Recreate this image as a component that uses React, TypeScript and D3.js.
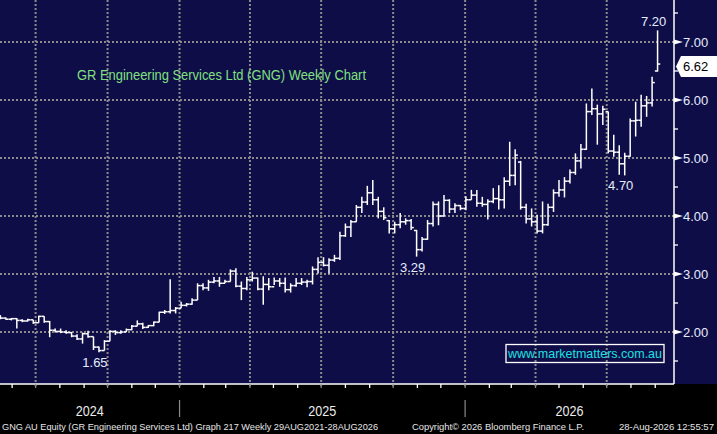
import React from 'react'
import * as d3 from 'd3'

// weekly bars, first bar date, one bar per week
const firstBar = new Date(2024, 4, 17)

const opens = [
  2.28, 2.24, 2.22, 2.23, 2.20, 2.19, 2.21, 2.16, 2.27, 2.18,
  2.03, 2.01, 2.00, 1.99, 1.93, 1.88, 1.97, 1.92, 1.74, 1.68,
  1.84, 2.01, 1.99, 2.00, 2.04, 2.10, 2.14, 2.08, 2.11, 2.17,
  2.34, 2.35, 2.37, 2.41, 2.46, 2.48, 2.55, 2.80, 2.76, 2.86,
  2.88, 2.84, 2.87, 3.05, 2.79, 2.75, 2.90, 2.93, 2.74, 2.82,
  2.78, 2.88, 2.84, 2.73, 2.80, 2.84, 2.86, 2.87, 3.08, 3.20,
  3.15, 3.24, 3.27, 3.66, 3.81, 3.90, 4.15, 4.24, 4.40, 4.28,
  4.08, 3.92, 3.78, 3.85, 3.90, 3.92, 3.75, 3.42, 3.60, 3.87,
  4.20, 4.00, 4.27, 4.12, 4.18, 4.13, 4.28, 4.36, 4.22, 4.20,
  4.25, 4.30, 4.28, 4.60, 4.70, 4.93, 4.15, 3.95, 3.90, 3.74,
  3.85, 4.15, 4.40, 4.45, 4.60, 4.75, 4.95, 5.15, 5.80, 5.85,
  5.76, 5.80, 5.12, 5.10, 4.90, 5.03, 5.64, 5.65, 5.90, 5.95,
  6.50,
]
const highs = [
  2.29, 2.25, 2.24, 2.24, 2.22, 2.23, 2.21, 2.28, 2.27, 2.19,
  2.06, 2.06, 2.03, 2.00, 1.96, 1.99, 2.02, 1.92, 1.75, 1.86,
  2.03, 2.03, 2.03, 2.06, 2.12, 2.20, 2.16, 2.12, 2.18, 2.35,
  2.38, 2.91, 2.43, 2.52, 2.50, 2.58, 2.84, 2.84, 2.90, 2.95,
  2.95, 2.90, 3.08, 3.10, 2.87, 2.95, 3.04, 2.94, 2.96, 2.93,
  2.94, 2.93, 2.94, 2.84, 2.93, 2.93, 2.90, 3.13, 3.29, 3.29,
  3.27, 3.33, 3.73, 3.87, 3.93, 4.19, 4.33, 4.52, 4.62, 4.33,
  4.15, 3.93, 3.90, 4.05, 3.96, 3.95, 3.76, 3.64, 3.93, 4.25,
  4.25, 4.36, 4.29, 4.22, 4.19, 4.34, 4.45, 4.45, 4.33, 4.29,
  4.48, 4.53, 4.67, 5.28, 5.15, 4.95, 4.21, 4.13, 4.02, 4.25,
  4.21, 4.46, 4.62, 4.67, 4.80, 5.08, 5.24, 5.94, 6.20, 5.92,
  5.90, 5.80, 5.40, 5.22, 5.09, 5.68, 5.97, 6.09, 6.07, 6.40,
  7.20,
]
const lows = [
  2.22, 2.21, 2.20, 2.06, 2.17, 2.18, 2.14, 2.16, 2.16, 1.91,
  1.99, 1.98, 1.97, 1.91, 1.86, 1.80, 1.90, 1.69, 1.65, 1.68,
  1.84, 1.95, 1.97, 2.00, 2.03, 2.10, 2.05, 2.07, 2.10, 2.17,
  2.31, 2.32, 2.32, 2.41, 2.44, 2.47, 2.55, 2.72, 2.71, 2.84,
  2.78, 2.84, 2.87, 2.77, 2.55, 2.72, 2.87, 2.72, 2.47, 2.72,
  2.81, 2.78, 2.68, 2.68, 2.78, 2.81, 2.77, 2.82, 3.01, 3.13,
  3.01, 3.21, 3.24, 3.64, 3.64, 3.90, 4.05, 4.19, 4.19, 3.96,
  3.93, 3.70, 3.70, 3.79, 3.85, 3.76, 3.30, 3.39, 3.59, 3.82,
  3.84, 3.99, 4.05, 4.05, 4.10, 4.10, 4.28, 4.16, 4.16, 3.94,
  4.22, 4.11, 4.13, 4.52, 4.53, 4.11, 3.87, 3.82, 3.70, 3.70,
  3.83, 4.07, 4.33, 4.32, 4.56, 4.71, 4.82, 5.14, 5.74, 5.23,
  5.57, 5.08, 5.02, 4.71, 4.70, 5.02, 5.37, 5.54, 5.71, 5.89,
  6.49,
]
const closes = [
  2.24, 2.22, 2.23, 2.20, 2.19, 2.21, 2.16, 2.27, 2.18, 2.03,
  2.01, 2.00, 1.99, 1.93, 1.88, 1.97, 1.92, 1.74, 1.68, 1.84,
  2.01, 1.99, 2.00, 2.04, 2.10, 2.14, 2.08, 2.11, 2.17, 2.34,
  2.35, 2.37, 2.41, 2.46, 2.48, 2.55, 2.80, 2.76, 2.86, 2.88,
  2.84, 2.87, 3.05, 2.79, 2.75, 2.90, 2.93, 2.74, 2.82, 2.78,
  2.88, 2.84, 2.73, 2.80, 2.84, 2.86, 2.87, 3.08, 3.20, 3.15,
  3.24, 3.27, 3.66, 3.81, 3.90, 4.15, 4.24, 4.40, 4.28, 4.08,
  3.97, 3.78, 3.85, 3.90, 3.92, 3.80, 3.42, 3.60, 3.87, 4.20,
  4.00, 4.27, 4.12, 4.18, 4.13, 4.28, 4.36, 4.22, 4.20, 4.25,
  4.30, 4.28, 4.60, 4.70, 5.05, 4.15, 3.95, 3.90, 3.74, 3.85,
  4.15, 4.40, 4.45, 4.60, 4.75, 4.95, 5.15, 5.80, 5.85, 5.76,
  5.84, 5.12, 5.10, 4.90, 5.03, 5.64, 5.65, 5.90, 5.95, 6.30,
  6.62,
]

const priceTicks = [2, 3, 4, 5, 6, 7]
const halfTicks = [1.5, 2.5, 3.5, 4.5, 5.5, 6.5, 7.5]
const years = [2024, 2025, 2026]
const marks = [
  { text: '1.65', bar: 18, side: 'low' },
  { text: '3.29', bar: 76, side: 'low' },
  { text: '4.70', bar: 114, side: 'low' },
  { text: '7.20', bar: 120, side: 'high' },
]
const lastPrice = 6.62
const title = 'GR Engineering Services Ltd (GNG) Weekly Chart'
const siteUrl = 'www.marketmatters.com.au'
const footLeft = 'GNG AU Equity (GR Engineering Services Ltd) Graph 217 Weekly 29AUG2021-28AUG2026'
const footMid = 'Copyright\u00a9 2026 Bloomberg Finance L.P.'
const footRight = '28-Aug-2026 12:55:57'

const W = 717
const H = 434
const plotRight = 674
const plotBottom = 384
const navy = '#0f0d47'
const font = '"Liberation Sans", Arial, sans-serif'
const labelColor = '#e4ecff'

const App: React.FC = () => {
  const dates = closes.map((_, i) => d3.timeDay.offset(firstBar, i * 7))
  const x = d3.scaleTime()
    .domain([new Date(2024, 4, 16, 12), new Date(2026, 8, 25)])
    .range([0, plotRight])
  const y = d3.scaleLinear().domain([2, 7]).range([332, 42])

  const start = x.domain()[0]
  const end = x.domain()[1]
  const quarters = d3.timeMonth.every(3)!.range(start, end).filter(d => d.getMonth() % 3 === 0)
  const months = d3.timeMonth.range(start, end)
  const tk = 2.7

  const last = y(lastPrice) + 2.5

  return (
    <svg width={W} height={H} style={{ position: 'absolute', left: 0, top: 0, background: '#000' }}
      fontFamily={font}>
      <rect x={0} y={0} width={W} height={plotBottom} fill={navy} />

      {/* grid */}
      {priceTicks.map(p => (
        <line key={'h' + p} x1={0} x2={plotRight} y1={y(p)} y2={y(p)}
          stroke="#8a8a8a" strokeWidth={2} strokeDasharray="2,2" />
      ))}
      {quarters.map(d => (
        <line key={'v' + d.getTime()} x1={x(d)} x2={x(d)} y1={0} y2={plotBottom + 4}
          stroke="#8a8a8a" strokeWidth={2} strokeDasharray="2,2" />
      ))}

      {/* bars */}
      <g stroke="#fff" strokeWidth={1.5}>
        {dates.map((d, i) => {
          const cx = x(d)
          return (
            <g key={i}>
              <line x1={cx} x2={cx} y1={y(highs[i])} y2={y(lows[i])} />
              <line x1={cx - tk} x2={cx} y1={y(opens[i])} y2={y(opens[i])} />
              <line x1={cx} x2={cx + tk} y1={y(closes[i])} y2={y(closes[i])} />
            </g>
          )
        })}
      </g>

      {/* high / low labels */}
      {marks.map(m => {
        const v = m.side === 'low' ? lows[m.bar] : highs[m.bar]
        const ty = m.side === 'low' ? y(v) + 15 : y(v) - 4
        return (
          <text key={m.text} x={x(dates[m.bar]) - 4} y={ty} fill={labelColor}
            fontSize={13} textAnchor="middle">{m.text}</text>
        )
      })}

      <text x={77} y={80} fill="#80e080" fontSize={14} textLength={289}
        lengthAdjust="spacingAndGlyphs">{title}</text>

      <rect x={506} y={344.5} width={158} height={18} fill="none" stroke="#fff" strokeWidth={1.3} />
      <text x={508} y={358} fill="#1ee0e0" fontSize={13} textLength={154}
        lengthAdjust="spacingAndGlyphs">{siteUrl}</text>

      {/* axes */}
      <line x1={plotRight} x2={plotRight} y1={0} y2={plotBottom} stroke="#fff" strokeWidth={1.5} />
      <line x1={0} x2={plotRight} y1={plotBottom} y2={plotBottom} stroke="#fff" strokeWidth={1.5} />
      {halfTicks.map(p => (
        <line key={'m' + p} x1={plotRight} x2={plotRight + 4} y1={y(p)} y2={y(p)}
          stroke="#fff" strokeWidth={1.3} />
      ))}
      {priceTicks.map(p => (
        <g key={'l' + p}>
          <path d={`M${plotRight},${y(p) - 2.5}L${plotRight + 9},${y(p)}L${plotRight},${y(p) + 2.5}Z`} fill="#fff" />
          <text x={683} y={y(p) + 4.5} fill={labelColor} fontSize={13}>{p.toFixed(2)}</text>
        </g>
      ))}
      <path d={`M${plotRight + 2},${last}L${plotRight + 7},${last - 10.5}L${W},${last - 10.5}L${W},${last + 10.5}L${plotRight + 7},${last + 10.5}Z`}
        fill="#fff" />
      <text x={683} y={last + 4.5} fill="#000" fontSize={13}>{lastPrice.toFixed(2)}</text>

      {months.map(d => {
        const isQ = d.getMonth() % 3 === 0
        return (
          <line key={'t' + d.getTime()} x1={x(d)} x2={x(d)} y1={plotBottom} y2={plotBottom + 4}
            stroke={isQ ? '#8a8a8a' : '#fff'} strokeWidth={1.3} />
        )
      })}

      {/* footer years */}
      {years.map(yr => {
        const a = Math.max(x(new Date(yr, 0, 1)), 0)
        const b = Math.min(x(new Date(yr + 1, 0, 1)), plotRight)
        return (
          <text key={yr} x={(a + b) / 2} y={416} fill="#ececec" fontSize={14}
            textAnchor="middle" textLength={28} lengthAdjust="spacingAndGlyphs">{yr}</text>
        )
      })}
      {years.slice(1).map(yr => (
        <line key={'s' + yr} x1={x(new Date(yr, 0, 1))} x2={x(new Date(yr, 0, 1))} y1={400} y2={417}
          stroke="#8a8a8a" strokeWidth={1.2} />
      ))}

      <text x={2} y={430} fill="#e6e6e6" fontSize={9} textLength={376}
        lengthAdjust="spacingAndGlyphs">{footLeft}</text>
      <text x={412} y={430} fill="#e6e6e6" fontSize={9} textLength={172}
        lengthAdjust="spacingAndGlyphs">{footMid}</text>
      <text x={619} y={430} fill="#e6e6e6" fontSize={8.8} textLength={95}
        lengthAdjust="spacingAndGlyphs">{footRight}</text>
    </svg>
  )
}

export default App
